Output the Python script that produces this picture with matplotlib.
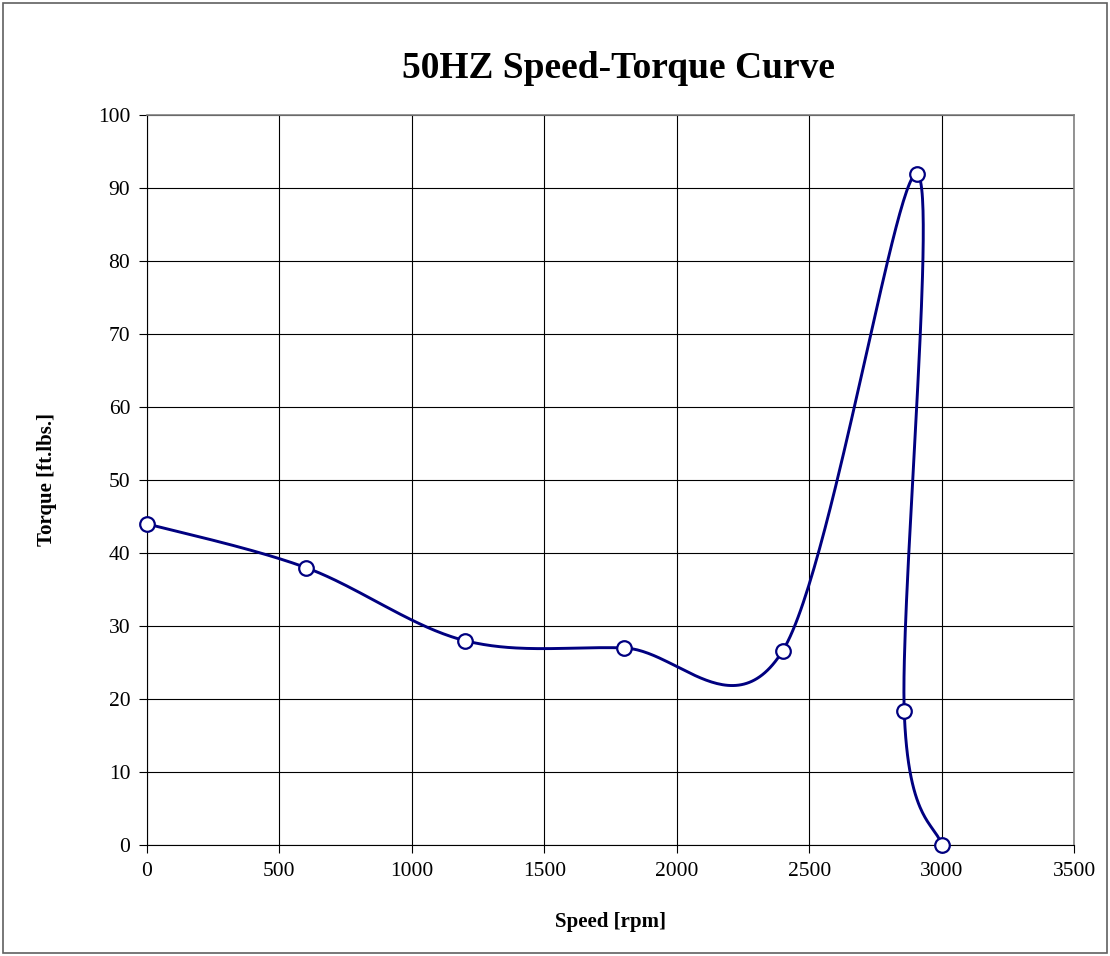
import numpy as np
import matplotlib
matplotlib.use("Agg")
import matplotlib.pyplot as plt
from matplotlib.patches import Rectangle

# data (order as plotted)
speed = [0, 600, 1200, 1800, 2400, 2908, 2859, 3000]
torque = [44.0, 38.0, 28.0, 27.0, 26.6, 91.9, 18.3, 0.0]

plt.rcParams['font.family'] = ['Liberation Serif', 'DejaVu Serif']

fig = plt.figure(figsize=(11.1, 9.56), dpi=100)
ax = fig.add_axes([147 / 1110, 1 - 845 / 956, 927 / 1110, 730 / 956])
ax.set_xlim(0, 3500)
ax.set_ylim(0, 100)


def excel_smooth(xs, ys, n=60):
    # catmull-rom style bezier, done in screen space like Excel
    sx, sy = 927 / 3500, 730 / 100
    P = np.column_stack([np.array(xs) * sx, np.array(ys) * sy])
    out = []
    for i in range(len(P) - 1):
        p0 = P[max(i - 1, 0)]
        p1 = P[i]
        p2 = P[i + 1]
        p3 = P[min(i + 2, len(P) - 1)]
        c1 = p1 + (p2 - p0) / 6
        c2 = p2 - (p3 - p1) / 6
        t = np.linspace(0, 1, n)[:, None]
        seg = ((1 - t) ** 3 * p1 + 3 * (1 - t) ** 2 * t * c1
               + 3 * (1 - t) * t ** 2 * c2 + t ** 3 * p2)
        out.append(seg if i == 0 else seg[1:])
    out = np.vstack(out)
    return out[:, 0] / sx, out[:, 1] / sy


cx, cy = excel_smooth(speed, torque)
ax.plot(cx, cy, color='#000080', lw=2.1, clip_on=False, zorder=3)
ax.plot(speed, torque, ls='none', marker='o', ms=10.5, mfc='white',
        mec='#000080', mew=1.6, clip_on=False, zorder=4)

ax.set_xticks(range(0, 3501, 500))
ax.set_yticks(range(0, 101, 10))
ax.grid(True, color='black', lw=0.8)
ax.set_axisbelow(True)
ax.tick_params(direction='out', length=6, width=0.8, labelsize=15.5, pad=6)
for s in ['left', 'bottom']:
    ax.spines[s].set_color('black')
    ax.spines[s].set_linewidth(0.8)
for s in ['top', 'right']:
    ax.spines[s].set_color('#808080')
    ax.spines[s].set_linewidth(1.2)

ax.set_xlabel('Speed [rpm]', fontsize=15, fontweight='bold')
ax.set_ylabel('Torque [ft.lbs.]', fontsize=15, fontweight='bold')
ax.xaxis.set_label_coords(0.5, -(922 - 845) / 730, transform=ax.transAxes)
ax.yaxis.set_label_coords(-(147 - 47) / 927, 0.5, transform=ax.transAxes)
ax.xaxis.label.set_va('center')
ax.yaxis.label.set_va('center')
fig.text(618 / 1110, 1 - 68 / 956, '50HZ Speed-Torque Curve', fontsize=27,
         fontweight='bold', ha='center', va='center')

fig.patches.append(Rectangle((3 / 1110, 3 / 956), 1104 / 1110, 950 / 956,
                             transform=fig.transFigure, fill=False,
                             ec='#606060', lw=1.2))

fig.savefig('out.png', dpi=100)
